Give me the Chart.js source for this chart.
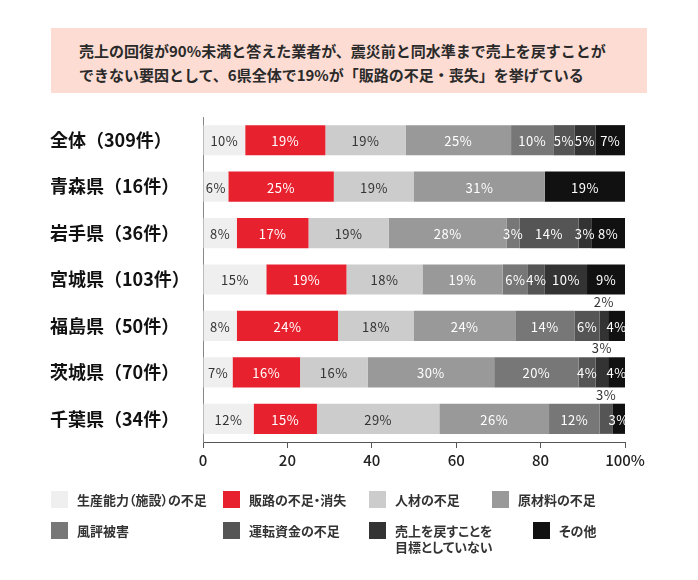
<!DOCTYPE html>
<html lang="ja">
<head>
<meta charset="utf-8">
<script src="https://cdn.jsdelivr.net/npm/chart.js@4"></script>
<style>
  html, body { margin: 0; padding: 0; background: #fff; }
  body { width: 698px; height: 580px; position: relative; overflow: hidden;
         font-family: "Noto Sans CJK JP", "Noto Sans", sans-serif; }
  #title { position: absolute; left: 51px; top: 28px; width: 596px; height: 65px;
           background: #fcdcd3; box-sizing: border-box; padding: 11px 0 0 28px;
           font-size: 15px; line-height: 24px; font-weight: 700; color: #2a2a2a; }
  #wrap { position: absolute; left: 0; top: 0; width: 698px; height: 580px; }
  .lg { position: absolute; font-size: 13px; font-weight: 700; color: #333; line-height: 16px;
        font-feature-settings: "palt"; }
  .lg i { position: absolute; left: 0; top: 0; width: 17px; height: 17px; }
  .lg span { position: absolute; left: 26px; top: 0.5px; white-space: nowrap; }
</style>
</head>
<body>
<div id="title">売上の回復が90%未満と答えた業者が、震災前と同水準まで売上を戻すことが<br>できない要因として、6県全体で19%が「販路の不足・喪失」を挙げている</div>
<div id="wrap"><canvas id="chart" width="698" height="580"></canvas></div>
<div id="legend"></div>
<script>
// 地域（件数）
const regions = ['全体（309件）', '青森県（16件）', '岩手県（36件）', '宮城県（103件）', '福島県（50件）', '茨城県（70件）', '千葉県（34件）'];
// 要因
const factors = ['生産能力（施設）の不足', '販路の不足・消失', '人材の不足', '原材料の不足', '風評被害', '運転資金の不足', '売上を戻すことを\n目標としていない', 'その他'];
// 要因ごとの割合 (%)  全体, 青森, 岩手, 宮城, 福島, 茨城, 千葉
const capacity   = [10,  6,  8, 15,  8,  7, 12];
const salesRoute = [19, 25, 17, 19, 24, 16, 15];
const staff      = [19, 19, 19, 18, 18, 16, 29];
const material   = [25, 31, 28, 19, 24, 30, 26];
const rumor      = [10,  0,  3,  6, 14, 20, 12];
const funds      = [ 5,  0, 14,  4,  6,  4,  3];
const noTarget   = [ 5,  0,  3, 10,  2,  3,  0];
const others     = [ 7, 19,  8,  9,  4,  4,  3];
const xTicks = [0, 20, 40, 60, 80, 100];

const seriesValues = [capacity, salesRoute, staff, material, rumor, funds, noTarget, others];
const colors = ['#efefef', '#e8212f', '#cccccc', '#999999', '#777777', '#555555', '#333333', '#111111'];
const labelColors = ['#333', '#fff', '#333', '#fff', '#fff', '#fff', '#fff', '#fff'];
// 棒の上に出すラベル (系列番号: 地域番号)
const labelAbove = { 5: [6], 6: [4, 5] };

const datasets = [];
for (var i = 0; i < factors.length; i++) {
  datasets.push({
    label: factors[i],
    data: seriesValues[i],
    backgroundColor: colors[i],
    borderWidth: 0,
    categoryPercentage: 1.0,
    barPercentage: 0.65
  });
}

// バー内の数値
const valueLabels = {
  id: 'valueLabels',
  afterDatasetsDraw(chart) {
    const ctx = chart.ctx;
    ctx.save();
    ctx.font = '13px "Noto Sans CJK JP", "Noto Sans", sans-serif';
    ctx.letterSpacing = '0.5px';
    ctx.textAlign = 'center';
    ctx.textBaseline = 'middle';
    chart.data.datasets.forEach(function(ds, i) {
      const meta = chart.getDatasetMeta(i);
      meta.data.forEach(function(bar, j) {
        const v = ds.data[j];
        if (!v) return;
        const cx = (bar.x + bar.base) / 2;
        let cy = bar.y + 1;
        let col = labelColors[i];
        if (labelAbove[i] && labelAbove[i].indexOf(j) >= 0) {
          cy = bar.y - bar.height / 2 - 9;
          col = '#333';
        }
        ctx.fillStyle = col;
        ctx.fillText(v + '%', cx, cy);
      });
    });
    ctx.restore();
  }
};

const ctx = document.getElementById('chart').getContext('2d');
const chart = new Chart(ctx, {
  type: 'bar',
  data: { labels: regions, datasets: datasets },
  plugins: [valueLabels],
  options: {
    indexAxis: 'y',
    responsive: false,
    animation: false,
    layout: { padding: { left: 50, right: 73, top: 117, bottom: 108 } },
    plugins: { legend: { display: false }, tooltip: { enabled: false } },
    scales: {
      x: {
        stacked: true,
        min: 0, max: 100,
        afterBuildTicks: function(scale) { scale.ticks = xTicks.map(function(v) { return { value: v }; }); },
        afterFit: function(scale) { scale.height = 30; },
        grid: { drawOnChartArea: false, drawTicks: true, tickLength: 6, color: '#555' },
        border: { display: true, color: '#555', width: 1 },
        ticks: {
          padding: 3,
          color: '#222',
          font: { family: '"Noto Sans CJK JP", "Noto Sans", sans-serif', size: 15, weight: '500' },
          callback: function(v) { return v === 100 ? '100%' : v; }
        }
      },
      y: {
        stacked: true,
        afterFit: function(scale) { scale.width = 153; },
        grid: { display: false },
        border: { display: true, color: '#888', width: 1 },
        ticks: {
          crossAlign: 'far',
          color: '#111',
          font: { family: '"Noto Sans CJK JP", "Noto Sans", sans-serif', size: 18, weight: 'bold' }
        }
      }
    }
  }
});

// 凡例
const legendPos = [[51, 491], [223, 491], [369, 491], [492, 491], [51, 522], [223, 522], [369, 522], [533, 522]];
const legendEl = document.getElementById('legend');
chart.data.datasets.forEach(function(ds, i) {
  const item = document.createElement('div');
  item.className = 'lg';
  item.style.left = legendPos[i][0] + 'px';
  item.style.top = legendPos[i][1] + 'px';
  item.innerHTML = '<i style="background:' + ds.backgroundColor + '"></i><span>' + ds.label.replace('\n', '<br>') + '</span>';
  legendEl.appendChild(item);
});
</script>
</body>
</html>
